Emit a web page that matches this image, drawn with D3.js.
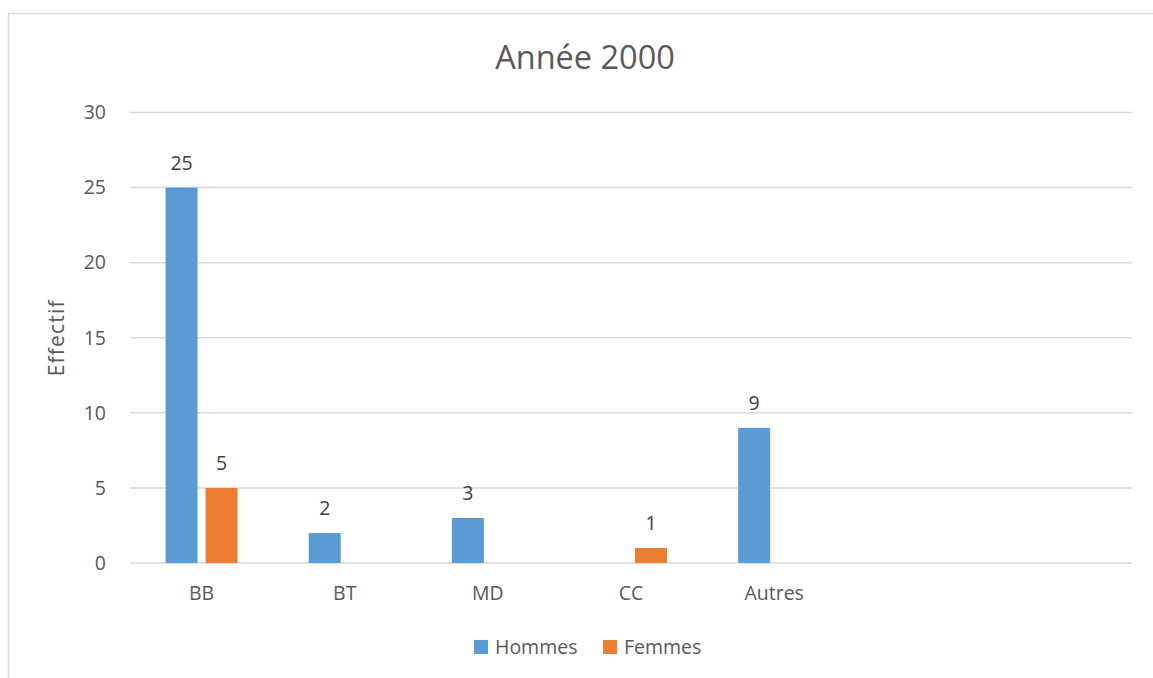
<!DOCTYPE html>
<html><head><meta charset="utf-8">
<script src="https://cdn.jsdelivr.net/npm/d3@7"></script>
<style>
html,body{margin:0;padding:0;background:#fff;}
svg{display:block;font-family:"Open Sans","Noto Sans",sans-serif;}
</style></head>
<body>
<svg id="c" width="1153" height="678"></svg>
<script>
const categories = ["BB","BT","MD","CC","Autres","",""];
const hommes = [25,2,3,0,9,null,null];
const femmes = [5,0,0,1,0,null,null];
const seriesNames = ["Hommes","Femmes"];
const yTicks = [0,5,10,15,20,25,30];
const title = "Année 2000";
const yTitle = "Effectif";

const colors = ["#5b9bd5","#ed7d31"];
const svg = d3.select("#c");
const W = 1153, H = 678;
const m = {left:130, right:21, top:112.5, bottom:115};
const FS = 19.5;

// chart border
svg.append("rect").attr("x",8.5).attr("y",13.5).attr("width",W+10).attr("height",H+10)
  .attr("fill","#fff").attr("stroke","#d9d9d9").attr("stroke-width",1.5);

const x = d3.scaleBand().domain(d3.range(categories.length)).range([m.left, W-m.right]).paddingInner(0).paddingOuter(0);
const x1 = d3.scaleBand().domain([0,1]).range([0,72]).paddingInner(0.2);
const y = d3.scaleLinear().domain([0,30]).range([H-m.bottom, m.top]);

// grid
svg.append("g").selectAll("line").data(yTicks).join("line")
  .attr("x1",m.left).attr("x2",W-m.right)
  .attr("y1",d=>y(d)).attr("y2",d=>y(d))
  .attr("stroke","#d9d9d9").attr("stroke-width",1.5);

// y labels
const yAxis = d3.axisLeft(y).tickValues(yTicks).tickSize(0).tickPadding(0);
const gy = svg.append("g").attr("transform",`translate(${m.left-24},0)`).call(yAxis);
gy.select(".domain").remove();
gy.selectAll("text").attr("font-size",FS).attr("fill","#595959").attr("font-family","'Open Sans',sans-serif");

// x labels
const xAxis = d3.axisBottom(x).tickFormat(i=>categories[i]).tickSize(0).tickPadding(0);
const gx = svg.append("g").attr("transform",`translate(0,${y(0)+23})`).call(xAxis);
gx.select(".domain").remove();
gx.selectAll("text").attr("font-size",FS).attr("fill","#595959").attr("font-family","'Open Sans',sans-serif");

const series = [hommes, femmes];
const groupOffset = (x.bandwidth()-72)/2;
series.forEach((vals,si)=>{
  const g = svg.append("g");
  const data = vals.map((v,i)=>({i,v})).filter(d=>d.v!=null && d.v>0);
  g.selectAll("rect").data(data).join("rect")
    .attr("x",d=>x(d.i)+groupOffset+x1(si))
    .attr("width",x1.bandwidth())
    .attr("y",d=>y(d.v))
    .attr("height",d=>y(0)-y(d.v))
    .attr("fill",colors[si]);
  g.selectAll("text").data(data).join("text")
    .attr("x",d=>x(d.i)+groupOffset+x1(si)+x1.bandwidth()/2)
    .attr("y",d=>y(d.v)-18)
    .attr("text-anchor","middle")
    .attr("font-size",FS).attr("fill","#404040")
    .text(d=>d.v);
});

// title
svg.append("text").attr("x",585).attr("y",69).attr("text-anchor","middle")
  .attr("font-size",32.5).attr("fill","#595959").text(title);

// y title
svg.append("text").attr("transform",`translate(64,${(y(0)+y(30))/2}) rotate(-90)`)
  .attr("text-anchor","middle").attr("font-size",21).attr("letter-spacing",1.2).attr("fill","#595959").text(yTitle);

// legend
const leg = svg.append("g");
const legX = [474, 603];
seriesNames.forEach((n,i)=>{
  leg.append("rect").attr("x",legX[i]).attr("y",640).attr("width",14).attr("height",14).attr("fill",colors[i]);
  leg.append("text").attr("x",legX[i]+21).attr("y",654).attr("font-size",FS).attr("fill","#595959").text(n);
});
</script>
</body></html>
